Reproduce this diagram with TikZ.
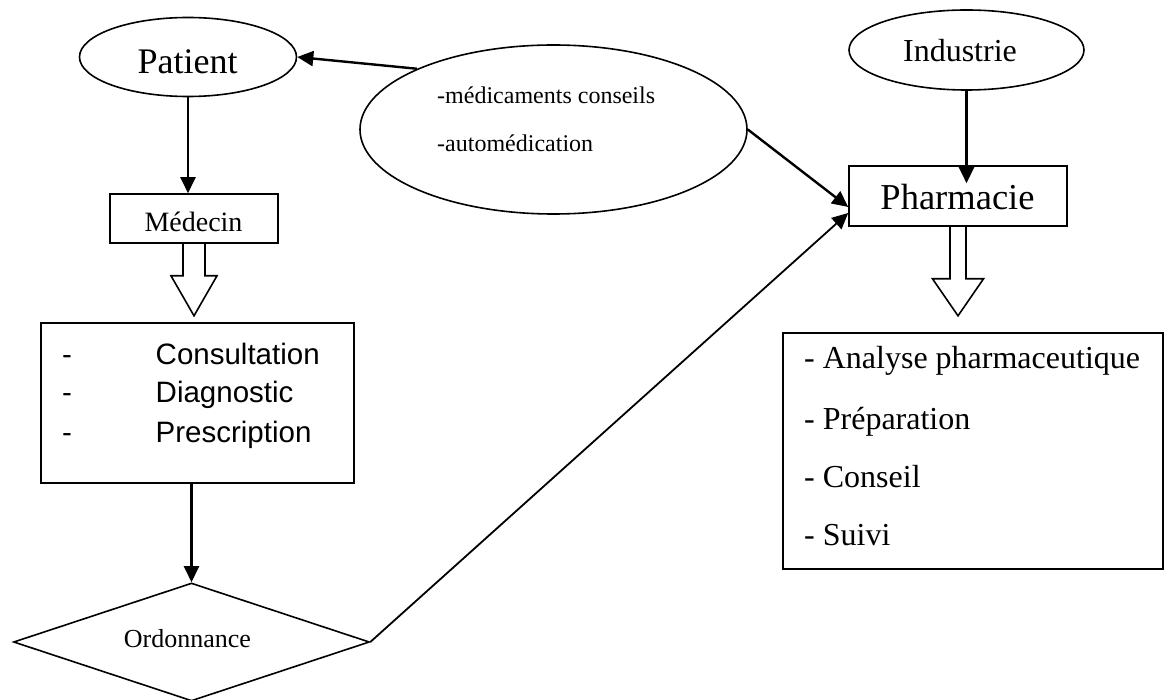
\documentclass[tikz,border=0pt]{standalone}
\usepackage{fontspec}
\setmainfont{Liberation Serif}
\newfontfamily\arialf{Liberation Sans}
\usetikzlibrary{shapes.geometric,arrows.meta,calc}
\begin{document}
\begin{tikzpicture}[x=1pt,y=-1pt,
  shp/.style={draw,line width=1.6pt,inner sep=0pt},
  arr/.style={line width=2.4pt,-{Triangle[length=16pt,width=15pt]}},
  thinarr/.style={line width=1.8pt,-{Triangle[length=16pt,width=15pt]}},
  blockarr/.style={draw,line width=1.6pt,line join=miter},
  txt/.style={inner sep=0pt,anchor=base},
  txtw/.style={inner sep=0pt,anchor=base west}]
\useasboundingbox (0,0) rectangle (1164,700);
\fill[white] (0,0) rectangle (1164,700);
% shapes
\node[shp,ellipse,minimum width=217pt,minimum height=79pt] (patient) at (188,57) {};
\node[txt,font=\fontsize{36}{40}\selectfont] (patientT) at (187.5,74) {Patient};
\node[shp,rectangle,minimum width=168pt,minimum height=49pt] (medecin) at (194,218.5) {};
\node[txt,font=\fontsize{28}{32}\selectfont] (medecinT) at (193.5,232) {Médecin};
\node[shp,rectangle,minimum width=313pt,minimum height=160pt] (consult) at (197.5,403) {};
\begin{scope}[font=\arialf\fontsize{29.5}{34}\selectfont]
\node[txtw] (d1) at (62,364) {-};
\node[txtw] (d2) at (62,402) {-};
\node[txtw] (d3) at (62,442) {-};
\node[txtw] (c1) at (155.5,364) {Consultation};
\node[txtw] (c2) at (155.5,402) {Diagnostic};
\node[txtw] (c3) at (155.5,442) {Prescription};
\end{scope}
\node[shp,diamond,minimum width=356pt,minimum height=118pt] (ordo) at (191.5,642) {};
\node[txt,font=\fontsize{26}{30}\selectfont] (ordoT) at (187.5,647) {Ordonnance};
\node[shp,ellipse,minimum width=387pt,minimum height=169pt] (big) at (553.5,129.5) {};
\node[txtw,font=\fontsize{24}{28}\selectfont] (bigT1) at (437,104) {-médicaments conseils};
\node[txtw,font=\fontsize{24}{28}\selectfont] (bigT2) at (437,152) {-automédication};
\node[shp,ellipse,minimum width=235pt,minimum height=80pt] (ind) at (966.5,50) {};
\node[txt,font=\fontsize{32}{36}\selectfont] (indT) at (960,62) {Industrie};
\node[shp,rectangle,minimum width=218pt,minimum height=60pt] (pharm) at (958,196) {};
\node[txt,font=\fontsize{36.5}{40}\selectfont] (pharmT) at (957.5,210) {Pharmacie};
\node[shp,rectangle,minimum width=380pt,minimum height=236pt] (res) at (973,451) {};
\begin{scope}[font=\fontsize{32}{36}\selectfont]
\node[txtw] (r1) at (804,369) {- Analyse pharmaceutique};
\node[txtw] (r2) at (804,429) {- Préparation};
\node[txtw] (r3) at (804,487) {- Conseil};
\node[txtw] (r4) at (804,545) {- Suivi};
\end{scope}
% block arrows
\draw[blockarr] ([xshift=-11pt]medecin.south) -- ++(0,32) -- ++(-12,0) -- ++(23,40) -- ++(23,-40) -- ++(-12,0) -- ++(0,-32);
\draw[blockarr] ([xshift=-8pt]pharm.south) -- ++(0,52) -- ++(-17.5,0) -- ++(25.5,37) -- ++(25.5,-37) -- ++(-17.5,0) -- ++(0,-52);
% connectors
\draw[arr] (patient.south) -- (patient.south |- medecin.north);
\draw[arr] (consult.south -| ordo.north) -- (ordo.north);
\draw[thinarr] (ordo.east) -- ($(pharm.west)+(0,17)$);
\draw[arr] (big.156) -- (patient.east);
\draw[arr] (big.east) -- ($(pharm.west)+(0,11)$);
\draw[arr] (ind.south) -- ($(ind.south |- pharm.north)+(0,18)$);
\end{tikzpicture}
\end{document}
